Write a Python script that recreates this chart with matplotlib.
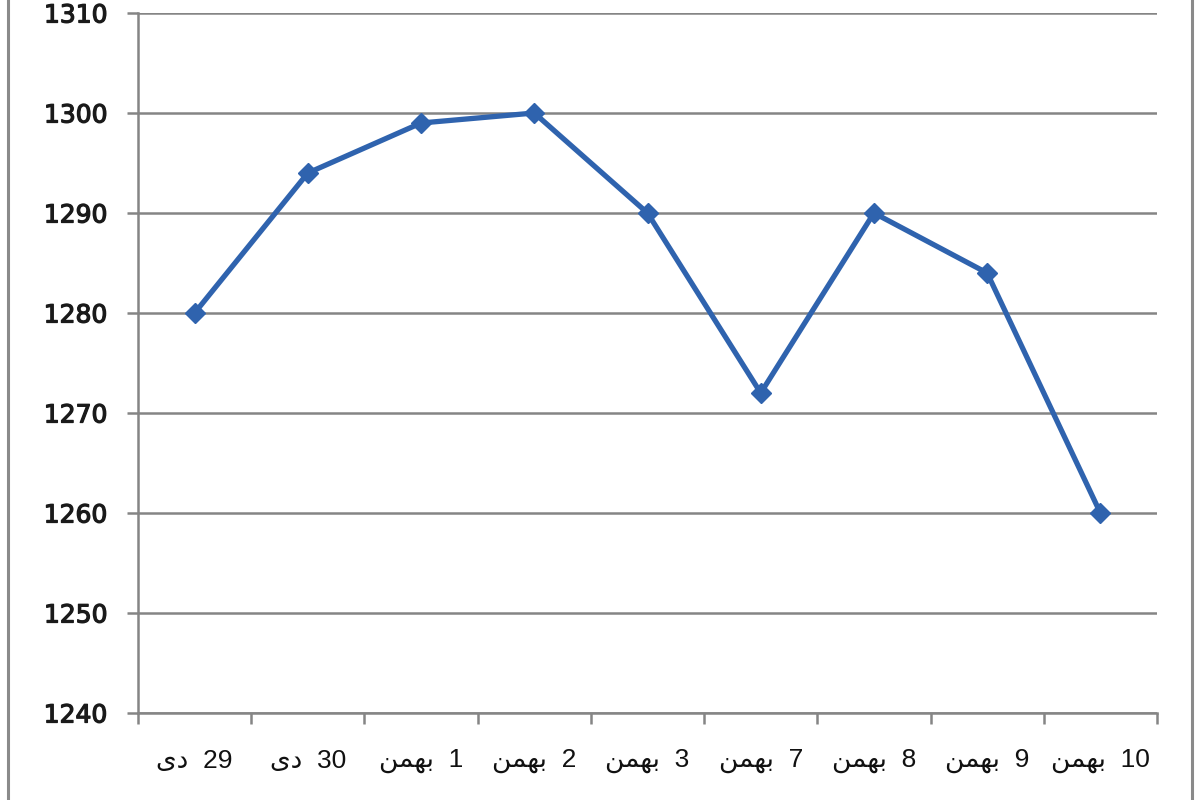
import matplotlib
matplotlib.use("Agg")
import matplotlib.pyplot as plt
import matplotlib.patheffects as pe
from matplotlib.lines import Line2D
import numpy as np

# Data
bahman = "\uFEE6\uFEE4\uFEEC\uFE91"   # بهمن (shaped, visual order)
dey = "\uFBFC\uFEA9"                  # دی (shaped, visual order)
days = ["29", "30", "1", "2", "3", "7", "8", "9", "10"]
months = [dey, dey, bahman, bahman, bahman, bahman, bahman, bahman, bahman]
categories = [f"{m}  {d}" for d, m in zip(days, months)]
values = [1280, 1294, 1299, 1300, 1290, 1272, 1290, 1284, 1260]
yticks = [1240, 1250, 1260, 1270, 1280, 1290, 1300, 1310]

fig = plt.figure(figsize=(12, 8), dpi=100)
ax = fig.add_axes([138/1200, 1-713/800, (1157-138)/1200, (713-13)/800])

grid_color = "#858585"
x = np.arange(len(values))
ax.plot(x, values, color="#2F63AE", lw=3.8, marker="D", markersize=10.5,
        markerfacecolor="#2F63AE", markeredgecolor="#2F63AE", zorder=3,
        clip_on=False)

ax.set_xlim(-0.5, len(values) - 0.5)
ax.set_ylim(1240, 1310)
ax.set_yticks(yticks)
ylabels = ax.set_yticklabels([str(v) for v in yticks], fontsize=18,
                             color="#1a1a1a", family=["DejaVu Sans"])
for t in ylabels:
    t.set_path_effects([pe.withStroke(linewidth=0.9, foreground="#1a1a1a")])
ax.yaxis.grid(True, color=grid_color, lw=1.8)
ax.set_axisbelow(True)

ax.set_xticks(x)
ax.set_xticklabels(categories, fontsize=19, color="#111111",
                   family=["Liberation Sans", "DejaVu Sans"])
ax.set_xticks(np.arange(-0.5, len(values)), minor=True)
ax.tick_params(axis="x", which="major", length=0, pad=26)
ax.tick_params(axis="x", which="minor", length=8, width=1.8, color=grid_color,
               direction="out")
ax.tick_params(axis="y", length=8, width=1.8, color=grid_color, pad=14,
               direction="out")

for s in ["top", "right"]:
    ax.spines[s].set_visible(False)
for s in ["left", "bottom"]:
    ax.spines[s].set_color(grid_color)
    ax.spines[s].set_linewidth(1.8)

# outer chart frame
fig.add_artist(Line2D([8/1200, 8/1200], [0, 1], color="#8a8a8a", lw=2.2,
                      transform=fig.transFigure))
fig.add_artist(Line2D([1192/1200, 1192/1200], [0, 1], color="#8a8a8a", lw=2.2,
                      transform=fig.transFigure))

fig.savefig("out.png", dpi=100, facecolor="white")
